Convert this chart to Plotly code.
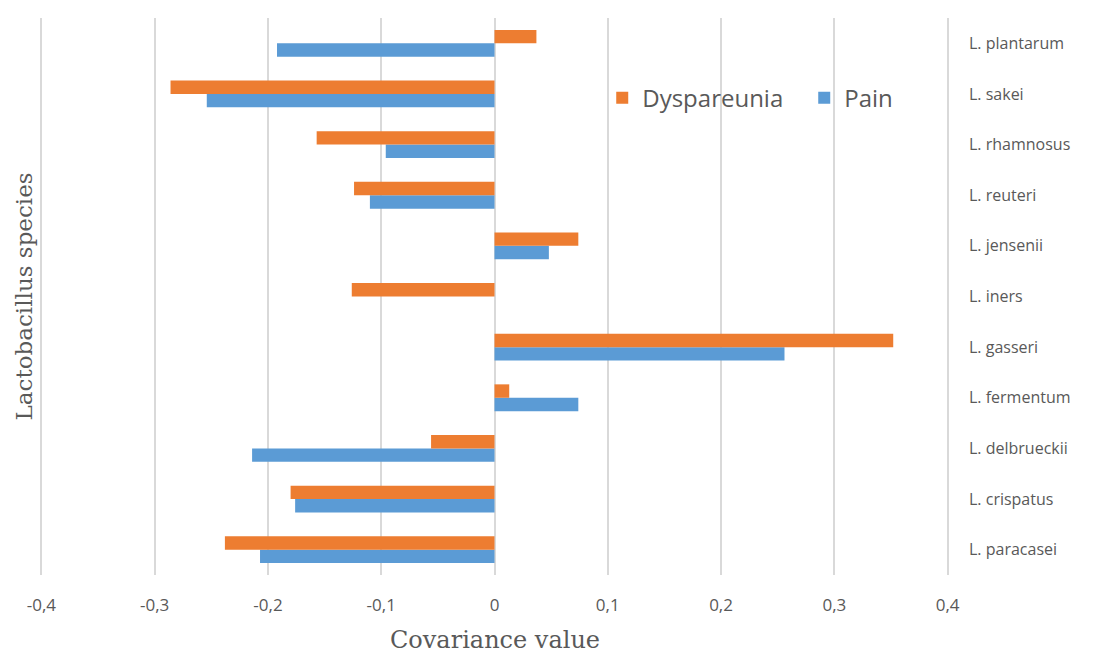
import plotly.graph_objects as go

species = ["L. paracasei", "L. crispatus", "L. delbrueckii", "L. fermentum", "L. gasseri",
           "L. iners", "L. jensenii", "L. reuteri", "L. rhamnosus", "L. sakei", "L. plantarum"]
pain = [-0.207, -0.176, -0.214, 0.074, 0.256, 0.0, 0.048, -0.110, -0.096, -0.254, -0.192]
dyspareunia = [-0.238, -0.180, -0.056, 0.013, 0.352, -0.126, 0.074, -0.124, -0.157, -0.286, 0.037]
tick_vals = [-0.4, -0.3, -0.2, -0.1, 0, 0.1, 0.2, 0.3, 0.4]
tick_text = ["-0,4", "-0,3", "-0,2", "-0,1", "0", "0,1", "0,2", "0,3", "0,4"]

GREY = "#595959"
fig = go.Figure()
fig.add_trace(go.Bar(y=species, x=pain, orientation="h", name="Pain",
                     marker=dict(color="#5B9BD5", line=dict(width=0))))
fig.add_trace(go.Bar(y=species, x=dyspareunia, orientation="h", name="Dyspareunia",
                     marker=dict(color="#ED7D31", line=dict(width=0))))

fig.update_layout(
    width=1096, height=657,
    margin=dict(l=30, r=153, t=10, b=90),
    paper_bgcolor="white", plot_bgcolor="white",
    barmode="group", bargap=0.47, bargroupgap=0,
    showlegend=True,
    legend=dict(orientation="h", traceorder="reversed", x=0.618, y=0.856,
                xanchor="left", yanchor="middle",
                font=dict(family="Open Sans", size=24, color=GREY),
                bgcolor="rgba(0,0,0,0)", itemwidth=30,
                entrywidth=157, entrywidthmode="pixels"),
    xaxis=dict(range=[-0.403, 0.403], tickvals=tick_vals, ticktext=tick_text,
               showgrid=True, gridcolor="#D9D9D9", gridwidth=1.5,
               zeroline=False, showline=False, ticks="", automargin=False,
               ticklabelstandoff=18,
               tickfont=dict(family="Open Sans", size=17, color=GREY)),
    yaxis=dict(side="right", showgrid=False, zeroline=False, showline=False, ticks="",
               ticklabelstandoff=17, automargin=False,
               tickfont=dict(family="Open Sans", size=16, color=GREY),
               categoryorder="array", categoryarray=species),
    annotations=[
        dict(text="Lactobacillus species", textangle=-90, xref="paper", yref="paper",
             x=-0.0154, y=0.5, showarrow=False, xanchor="center", yanchor="middle",
             font=dict(family="DejaVu Serif", size=23, color=GREY)),
        dict(text="Covariance value", xref="paper", yref="paper",
             x=0.5, y=-0.117, showarrow=False, xanchor="center", yanchor="middle",
             font=dict(family="DejaVu Serif", size=24, color=GREY)),
    ],
)

fig.write_html("out.html")
